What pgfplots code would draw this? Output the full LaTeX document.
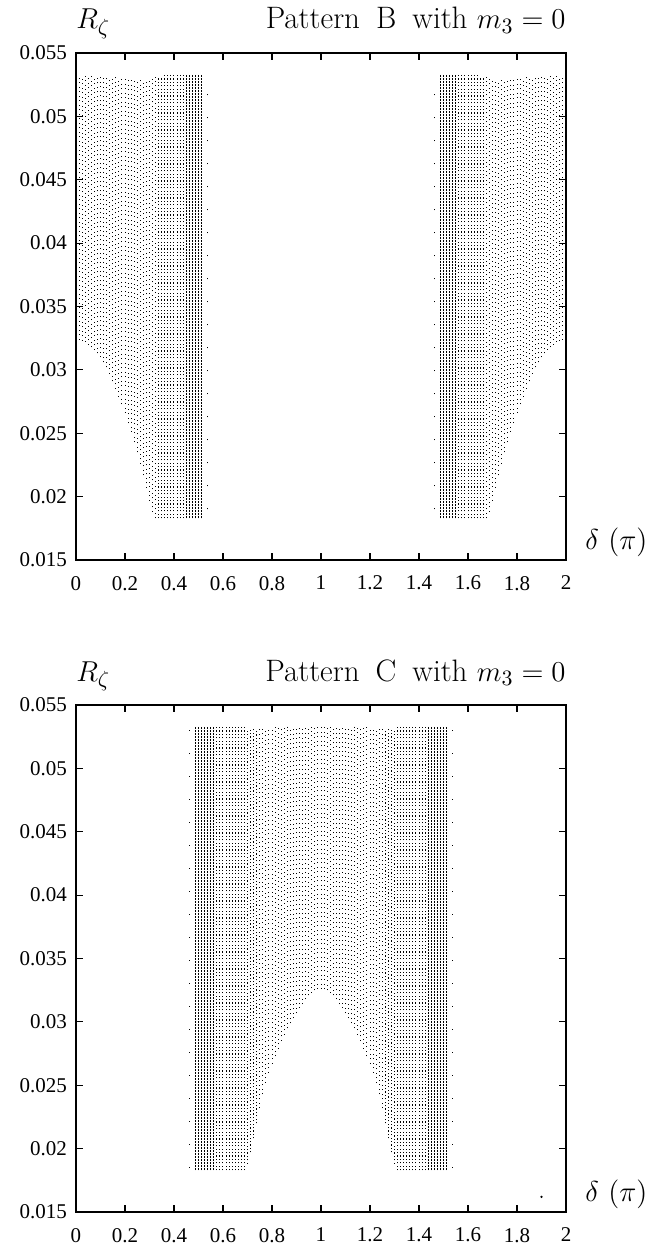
\documentclass[border=0pt]{standalone}
\usepackage{fontspec}
\newfontfamily\tickfont{Liberation Serif}
\usepackage{pgfplots}
\usepackage{pgfplotstable}
\pgfplotsset{compat=1.18}

% column x, lower and upper edge of the dot band (Pattern B)
\pgfplotstableread{
x lo hi
0.0125 0.0324 0.0532
0.025 0.0323 0.0532
0.0375 0.0322 0.0532
0.05 0.0320 0.0532
0.0625 0.0318 0.0532
0.075 0.0316 0.0532
0.0875 0.0313 0.0532
0.1 0.0310 0.0532
0.1125 0.0306 0.0531
0.125 0.0302 0.0531
0.1375 0.0297 0.0531
0.15 0.0291 0.0531
0.1625 0.0285 0.0531
0.175 0.0279 0.0531
0.1875 0.0273 0.0531
0.2 0.0266 0.0531
0.2125 0.0258 0.0529
0.225 0.0251 0.0529
0.2375 0.0243 0.0529
0.25 0.0235 0.0529
0.2625 0.0226 0.0529
0.275 0.0217 0.0529
0.2875 0.0207 0.0529
0.3 0.0197 0.0529
0.3125 0.0188 0.0531
0.325 0.0183 0.0531
1.675 0.0183 0.0531
1.6875 0.0188 0.0531
1.7 0.0197 0.0529
1.7125 0.0207 0.0529
1.725 0.0217 0.0529
1.7375 0.0226 0.0529
1.75 0.0235 0.0529
1.7625 0.0243 0.0529
1.775 0.0251 0.0529
1.7875 0.0258 0.0529
1.8 0.0266 0.0531
1.8125 0.0273 0.0531
1.825 0.0279 0.0531
1.8375 0.0285 0.0531
1.85 0.0291 0.0531
1.8625 0.0297 0.0531
1.875 0.0302 0.0531
1.8875 0.0306 0.0531
1.9 0.0310 0.0532
1.9125 0.0313 0.0532
1.925 0.0316 0.0532
1.9375 0.0318 0.0532
1.95 0.0320 0.0532
1.9625 0.0322 0.0532
1.975 0.0323 0.0532
1.9875 0.0324 0.0532
}\BLight
\pgfplotstableread{
x lo hi
0.3375 0.0183 0.0531
0.35 0.0183 0.0531
0.3625 0.0183 0.0533
0.375 0.0183 0.0533
0.3875 0.0183 0.0533
0.4 0.0183 0.0533
0.4125 0.0183 0.0533
0.425 0.0183 0.0533
0.4375 0.0183 0.0533
1.5625 0.0183 0.0533
1.575 0.0183 0.0533
1.5875 0.0183 0.0533
1.6 0.0183 0.0533
1.6125 0.0183 0.0533
1.625 0.0183 0.0533
1.6375 0.0183 0.0533
1.65 0.0183 0.0531
1.6625 0.0183 0.0531
}\BMid
\pgfplotstableread{
x lo hi
0.45 0.0183 0.0533
0.4625 0.0183 0.0533
0.475 0.0183 0.0533
0.4875 0.0183 0.0533
0.5 0.0183 0.0533
0.5125 0.0183 0.0533
1.4875 0.0183 0.0533
1.5 0.0183 0.0533
1.5125 0.0183 0.0533
1.525 0.0183 0.0533
1.5375 0.0183 0.0533
1.55 0.0183 0.0533
}\BDark
\pgfplotstableread{
x lo hi
0.535 0.0190 0.0530
1.465 0.0190 0.0530
}\BSparse

% Pattern C
\pgfplotstableread{
x lo hi
0.75 0.0232 0.0531
0.7625 0.0243 0.0531
0.775 0.0252 0.0531
0.7875 0.0260 0.0531
0.8 0.0267 0.0531
0.8125 0.0273 0.0533
0.825 0.0279 0.0533
0.8375 0.0285 0.0533
0.85 0.0290 0.0533
0.8625 0.0295 0.0533
0.875 0.0299 0.0533
0.8875 0.0303 0.0533
0.9 0.0307 0.0533
0.9125 0.0311 0.0533
0.925 0.0314 0.0533
0.9375 0.0318 0.0533
0.95 0.0321 0.0533
0.9625 0.0323 0.0533
0.975 0.0325 0.0533
0.9875 0.0326 0.0533
1 0.0326 0.0533
1.0125 0.0326 0.0533
1.025 0.0325 0.0533
1.0375 0.0323 0.0533
1.05 0.0321 0.0533
1.0625 0.0318 0.0533
1.075 0.0314 0.0533
1.0875 0.0311 0.0533
1.1 0.0307 0.0533
1.1125 0.0303 0.0533
1.125 0.0299 0.0533
1.1375 0.0295 0.0533
1.15 0.0290 0.0533
1.1625 0.0285 0.0533
1.175 0.0279 0.0533
1.1875 0.0273 0.0533
1.2 0.0267 0.0531
1.2125 0.0260 0.0531
1.225 0.0252 0.0531
1.2375 0.0243 0.0531
1.25 0.0232 0.0531
}\CLight
\pgfplotstableread{
x lo hi
0.575 0.0183 0.0533
0.5875 0.0183 0.0533
0.6 0.0183 0.0533
0.6125 0.0183 0.0533
0.625 0.0183 0.0533
0.6375 0.0183 0.0533
0.65 0.0183 0.0533
0.6625 0.0183 0.0533
0.675 0.0183 0.0533
0.6875 0.0183 0.0533
0.7 0.0188 0.0531
0.7125 0.0197 0.0531
0.725 0.0208 0.0531
0.7375 0.0220 0.0531
1.2625 0.0220 0.0531
1.275 0.0208 0.0531
1.2875 0.0197 0.0531
1.3 0.0188 0.0531
1.3125 0.0183 0.0533
1.325 0.0183 0.0533
1.3375 0.0183 0.0533
1.35 0.0183 0.0533
1.3625 0.0183 0.0533
1.375 0.0183 0.0533
1.3875 0.0183 0.0533
1.4 0.0183 0.0533
1.4125 0.0183 0.0533
1.425 0.0183 0.0533
}\CMid
\pgfplotstableread{
x lo hi
0.4875 0.0183 0.0533
0.5 0.0183 0.0533
0.5125 0.0183 0.0533
0.525 0.0183 0.0533
0.5375 0.0183 0.0533
0.55 0.0183 0.0533
0.5625 0.0183 0.0533
1.4375 0.0183 0.0533
1.45 0.0183 0.0533
1.4625 0.0183 0.0533
1.475 0.0183 0.0533
1.4875 0.0183 0.0533
1.5 0.0183 0.0533
1.5125 0.0183 0.0533
}\CDark
\pgfplotstableread{
x lo hi
0.465 0.0185 0.0530
1.535 0.0185 0.0530
}\CSparse

\pgfplotsset{
  panel/.style={
    width=245pt, height=253.5pt, scale only axis,
    xmin=0, xmax=2, ymin=0.015, ymax=0.055,
    xtick={0,0.2,0.4,0.6,0.8,1,1.2,1.4,1.6,1.8,2},
    xticklabels={0,0.2,0.4,0.6,0.8,1,1.2,1.4,1.6,1.8,2},
    ytick={0.015,0.02,0.025,0.03,0.035,0.04,0.045,0.05,0.055},
    yticklabels={0.015,0.02,0.025,0.03,0.035,0.04,0.045,0.05,0.055},
    scaled x ticks=false, scaled y ticks=false,
    tick align=inside, tick pos=both,
    major tick length=3.5pt,
    axis line style={line width=0.8pt},
    every tick/.style={black, line width=0.6pt},
    ticklabel style={font=\tickfont\fontsize{10.5}{12}\selectfont},
    xticklabel style={yshift=-4.5pt},
    yticklabel style={xshift=-1pt},
    clip=false,
  },
  band/.style={only marks, mark size=0pt, mark options={draw=none, fill=none},
    error bars/.cd, y dir=plus, y explicit, error mark=none,
    error bar style={black, #1}},
}
\tikzset{
  light/.style={line width=0.45pt, dash pattern=on 0.45pt off 1.8pt},
  mid/.style={line width=0.5pt, dash pattern=on 0.6pt off 1.1pt},
  dark/.style={line width=0.65pt, dash pattern=on 1.0pt off 0.5pt},
  sparse/.style={line width=0.5pt, dash pattern=on 0.5pt off 11pt},
  lbl/.style={inner sep=0pt, font=\fontsize{15.5}{17}\selectfont},
}
\newcommand{\bands}[4]{%
  \addplot[band=light] table[x=x, y=lo, y error plus expr=\thisrow{hi}-\thisrow{lo}] {#1};
  \addplot[band=mid] table[x=x, y=lo, y error plus expr=\thisrow{hi}-\thisrow{lo}] {#2};
  \addplot[band=dark] table[x=x, y=lo, y error plus expr=\thisrow{hi}-\thisrow{lo}] {#3};
  \addplot[band=sparse] table[x=x, y=lo, y error plus expr=\thisrow{hi}-\thisrow{lo}] {#4};
}

\begin{document}
\begin{tikzpicture}
\useasboundingbox (-38pt,-343.5pt) rectangle (289.5pt,280pt);
\begin{axis}[panel, at={(0,0)}, anchor=south west]
\bands{\BLight}{\BMid}{\BDark}{\BSparse}
\node[lbl, anchor=base west] at (rel axis cs:0,1) [yshift=12pt] {$R_\zeta$};
\node[lbl, anchor=base east] at (rel axis cs:1,1) [yshift=12pt] {Pattern\hspace{8pt}B\hspace{8pt}with $m_3=0$};
\node[lbl, anchor=west] at (rel axis cs:1,0) [xshift=9.5pt, yshift=9pt] {$\delta\ (\pi)$};
\end{axis}
\begin{axis}[panel, at={(0,-326pt)}, anchor=south west]
\bands{\CLight}{\CMid}{\CDark}{\CSparse}
\addplot[only marks, mark=*, mark size=0.35pt, black] coordinates {(1.9,0.0162)};
\node[lbl, anchor=base west] at (rel axis cs:0,1) [yshift=12pt] {$R_\zeta$};
\node[lbl, anchor=base east] at (rel axis cs:1,1) [yshift=12pt] {Pattern\hspace{8pt}C\hspace{8pt}with $m_3=0$};
\node[lbl, anchor=west] at (rel axis cs:1,0) [xshift=9.5pt, yshift=9pt] {$\delta\ (\pi)$};
\end{axis}
\end{tikzpicture}
\end{document}
